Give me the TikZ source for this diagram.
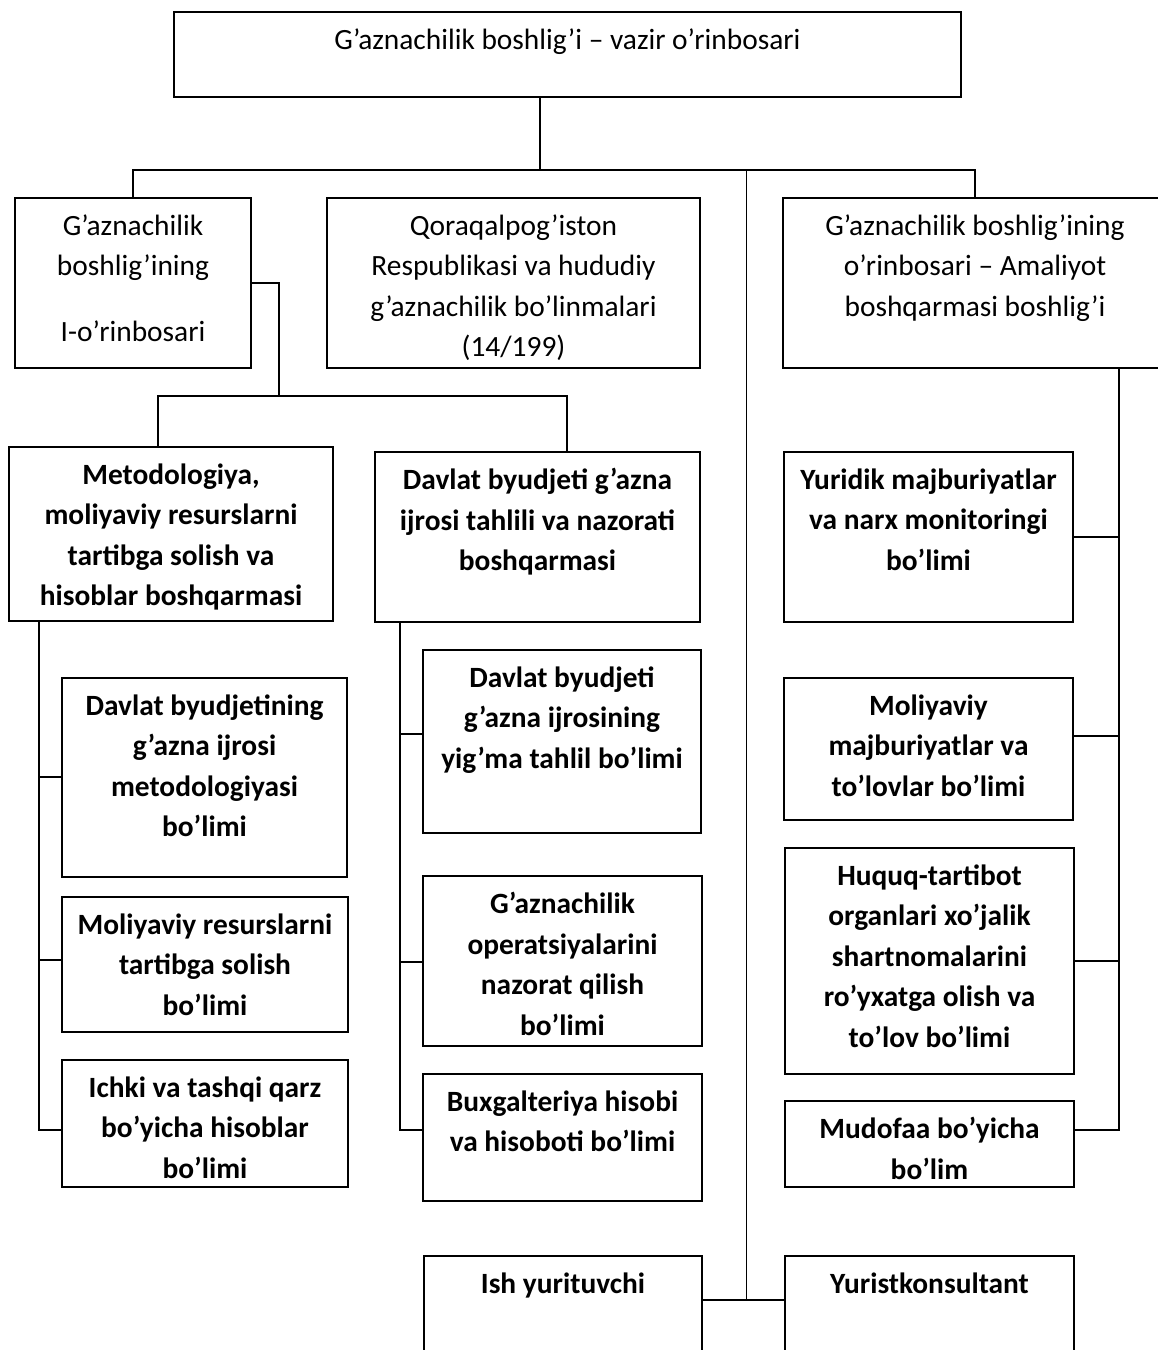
\documentclass[tikz,border=0pt]{standalone}
\usepackage{fontspec}
\setmainfont{Carlito}
\usetikzlibrary{fit}

% one unit of the chart: a framed box and its text, set from the top
\newcommand\orgunit[7]{%
  \node[box, fit={(#2,#3)(#4,#5)}] (#1) {};
  \node[#6] (#1-text) at ([yshift=-17pt]#1.north) {#7};}

\begin{document}
\begin{tikzpicture}[x=1pt,y=-1pt,
  box/.style={draw, line width=1.6pt, inner sep=0pt, rectangle},
  boxtext/.style={anchor=north, align=center, inner sep=0pt,
    font=\fontsize{29.4}{40.5}\selectfont,
    execute at begin node=\rule{0pt}{20pt}},
  boldtext/.style={boxtext, font=\fontsize{29.4}{40.5}\selectfont\bfseries},
  conn/.style={line width=1.4pt},
  spine/.style={line width=1pt}]

\fill[white] (0,0) rectangle (1158,1350);
\useasboundingbox (0,0) rectangle (1158,1350);

% head and its deputies
\orgunit{top}{174}{12}{961}{97}{boxtext}{G’aznachilik boshlig’i – vazir o’rinbosari}
\orgunit{L1}{15}{198}{251}{368}{boxtext}{G’aznachilik\\boshlig’ining\\[25pt]I-o’rinbosari}
\orgunit{Q}{327}{198}{700}{368}{boxtext}{Qoraqalpog’iston\\Respublikasi va hududiy\\g’aznachilik bo’linmalari\\(14/199)}
\orgunit{R1}{783}{198}{1167}{368}{boxtext}{G’aznachilik boshlig’ining\\o’rinbosari – Amaliyot\\boshqarmasi boshlig’i}

% departments
\orgunit{M}{9}{447}{333}{621}{boldtext}{Metodologiya,\\moliyaviy resurslarni\\tartibga solish va\\hisoblar boshqarmasi}
\orgunit{D}{375}{452}{700}{622}{boldtext}{Davlat byudjeti g’azna\\ijrosi tahlili va nazorati\\boshqarmasi}

% left column
\orgunit{LA}{62}{678}{347}{877}{boldtext}{Davlat byudjetining\\g’azna ijrosi\\metodologiyasi\\bo’limi}
\orgunit{LB}{62}{897}{348}{1032}{boldtext}{Moliyaviy resurslarni\\tartibga solish\\bo’limi}
\orgunit{LC}{62}{1060}{348}{1187}{boldtext}{Ichki va tashqi qarz\\bo’yicha hisoblar\\bo’limi}

% middle column
\orgunit{MA}{423}{650}{701}{833}{boldtext}{Davlat byudjeti\\g’azna ijrosining\\yig’ma tahlil bo’limi}
\orgunit{MB}{423}{876}{702}{1046}{boldtext}{G’aznachilik\\operatsiyalarini\\nazorat qilish\\bo’limi}
\orgunit{MC}{423}{1074}{702}{1201}{boldtext}{Buxgalteriya hisobi\\va hisoboti bo’limi}

% right column
\orgunit{Y}{784}{452}{1073}{622}{boldtext}{Yuridik majburiyatlar\\va narx monitoringi\\bo’limi}
\orgunit{RA}{784}{678}{1073}{820}{boldtext}{Moliyaviy\\majburiyatlar va\\to’lovlar bo’limi}
\orgunit{RB}{785}{848}{1074}{1074}{boldtext}{Huquq-tartibot\\organlari xo’jalik\\shartnomalarini\\ro’yxatga olish va\\to’lov bo’limi}
\orgunit{RC}{785}{1101}{1074}{1187}{boldtext}{Mudofaa bo’yicha\\bo’lim}

% staff at the foot
\orgunit{ish}{424}{1256}{702}{1366}{boldtext}{Ish yurituvchi}
\orgunit{yur}{785}{1256}{1074}{1366}{boldtext}{Yuristkonsultant}

% junction points
\coordinate (bus) at (540,170);
\coordinate (spinetop) at (746,170);
\coordinate (spinebot) at (746,1300);
\coordinate (k1) at (279,283);
\coordinate (subbus) at (279,396);
\coordinate (mdrop) at (158,396);
\coordinate (ddrop) at (567,396);
\coordinate (jLA) at (39,777);
\coordinate (jLB) at (39,960);
\coordinate (jLC) at (39,1130);
\coordinate (jMA) at (400,734);
\coordinate (jMB) at (400,962);
\coordinate (jMC) at (400,1130);
\coordinate (jY) at (1119,537);
\coordinate (jRA) at (1119,736);
\coordinate (jRB) at (1119,961);
\coordinate (jRC) at (1119,1130);

% top level
\draw[conn] (top.south -| bus) -- (bus);
\draw[conn] (L1.north) -- (L1.north |- bus) -- (R1.north |- bus) -- (R1.north);
\draw[spine] (spinetop) -- (spinebot);
\draw[conn] (ish.east |- spinebot) -- (yur.west |- spinebot);

% first deputy to departments
\draw[conn] (L1.east |- k1) -- (k1) -- (subbus);
\draw[conn] (M.north -| mdrop) -- (mdrop) -- (ddrop) -- (D.north -| ddrop);

% left column
\draw[conn] (M.south -| jLC) -- (jLC) -- (LC.west |- jLC);
\draw[conn] (jLA) -- (LA.west |- jLA);
\draw[conn] (jLB) -- (LB.west |- jLB);

% middle column
\draw[conn] (D.south -| jMC) -- (jMC) -- (MC.west |- jMC);
\draw[conn] (jMA) -- (MA.west |- jMA);
\draw[conn] (jMB) -- (MB.west |- jMB);

% right column
\draw[conn] (R1.south -| jRC) -- (jRC) -- (RC.east |- jRC);
\draw[conn] (jY) -- (Y.east |- jY);
\draw[conn] (jRA) -- (RA.east |- jRA);
\draw[conn] (jRB) -- (RB.east |- jRB);

\end{tikzpicture}
\end{document}
